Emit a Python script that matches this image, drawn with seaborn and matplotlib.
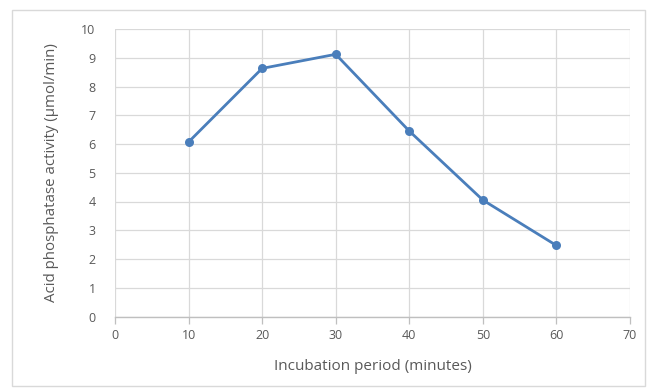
import matplotlib
matplotlib.use("Agg")
import matplotlib.pyplot as plt
import seaborn as sns
import pandas as pd
from matplotlib.patches import Rectangle

minutes = [10, 20, 30, 40, 50, 60]
activity = [6.07, 8.63, 9.12, 6.45, 4.05, 2.47]
x_ticks = [0, 10, 20, 30, 40, 50, 60, 70]
y_ticks = [0, 1, 2, 3, 4, 5, 6, 7, 8, 9, 10]

sns.set_theme(style="white")
plt.rcParams['font.family'] = ['Open Sans', 'DejaVu Sans']

df = pd.DataFrame({"minutes": minutes, "activity": activity})

fig = plt.figure(figsize=(6.55, 3.9), dpi=100)
ax = fig.add_axes([115/655, 1-316.5/390, (630-115)/655, (316.5-29)/390])

line_color = "#4A7EBB"
sns.lineplot(data=df, x="minutes", y="activity", ax=ax, color=line_color,
             linewidth=2.0, marker="o", markersize=6.5, markeredgewidth=0,
             zorder=3)

ax.set_xlim(0, 70)
ax.set_ylim(0, 10)
ax.set_xticks(x_ticks)
ax.set_yticks(y_ticks)
ax.grid(True, color="#d9d9d9", linewidth=0.9)
ax.set_axisbelow(True)
for s in ["top", "right", "left"]:
    ax.spines[s].set_visible(False)
ax.spines["bottom"].set_color("#bfbfbf")
ax.spines["bottom"].set_linewidth(1.0)
ax.tick_params(axis="x", which="both", bottom=True, length=5, width=0.9,
               color="#bfbfbf", labelcolor="#595959", labelsize=9, pad=4)
ax.tick_params(axis="y", left=False, labelcolor="#595959", labelsize=9, pad=8)

ax.set_xlabel("Incubation period (minutes)", color="#595959", fontsize=11, labelpad=12)
ax.set_ylabel("Acid phosphatase activity (µmol/min)", color="#595959", fontsize=10.8, labelpad=16)

fig.patches.append(Rectangle((12/655, 1-386/390), (645-12)/655, (386-10)/390,
                             transform=fig.transFigure, fill=False,
                             edgecolor="#d9d9d9", linewidth=1.0))

fig.savefig("out.png", dpi=100)
